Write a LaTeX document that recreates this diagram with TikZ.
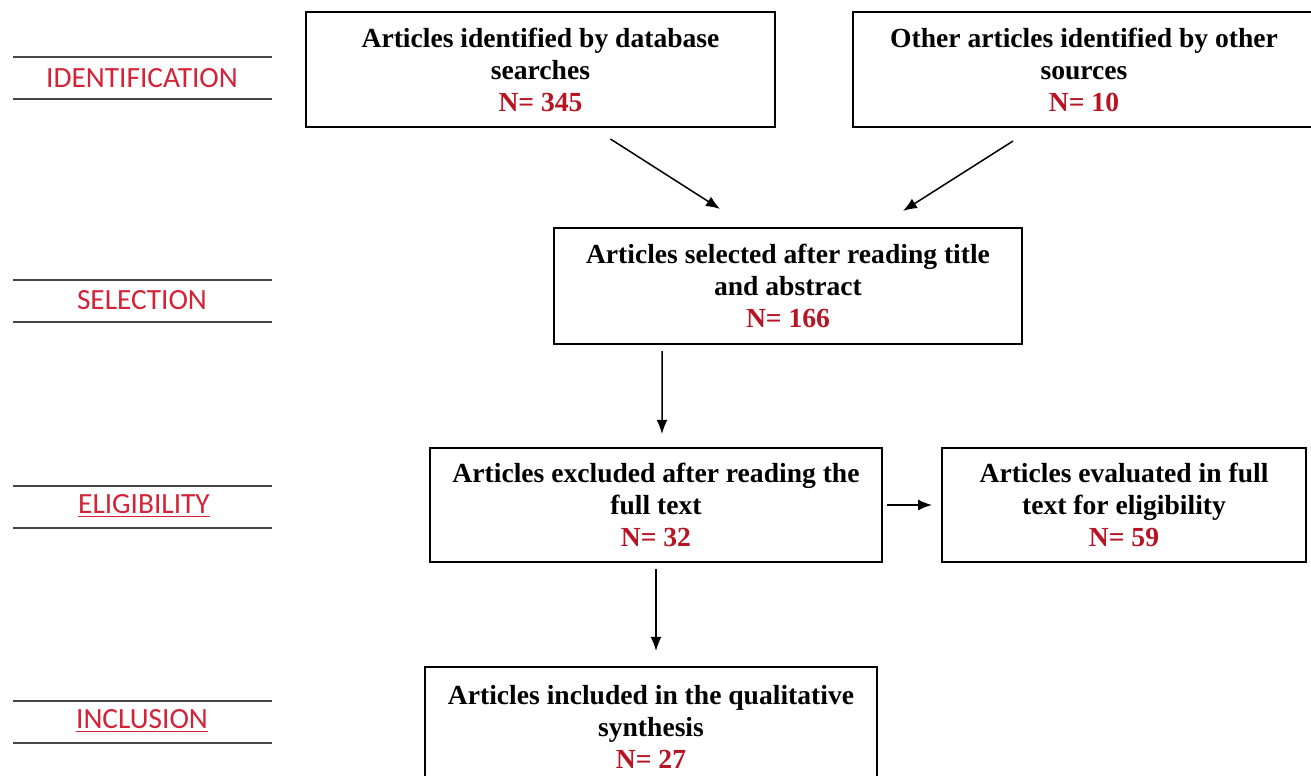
\documentclass[tikz,border=0pt]{standalone}
\usepackage{fontspec}
\setmainfont{Liberation Serif}
\newfontfamily\stagefont{Carlito}
\usetikzlibrary{arrows.meta}

\definecolor{numred}{RGB}{185,20,35}
\definecolor{stagered}{RGB}{212,35,55}
\definecolor{rulegray}{RGB}{70,70,70}

\newcommand{\stagelines}[1]{
  \draw [stagerule] (13,#1-21) -- (272,#1-21);
  \draw [stagerule] (13,#1+21) -- (272,#1+21);
}

\begin{document}
\begin{tikzpicture}[x=0.02cm,y=-0.02cm,
    box/.style={draw,line width=1.2pt,align=center,inner sep=0pt,
      font=\fontsize{15.7}{18.2}\selectfont\bfseries},
    stagelabel/.style={text=stagered,font=\stagefont\fontsize{16.7}{19}\selectfont},
    stagerule/.style={draw=rulegray,line width=1.2pt},
    arr/.style={-{Latex[length=2.8mm,width=2.2mm]},line width=0.85pt}]
  \useasboundingbox (0,0) rectangle (1311,776);
  \clip (0,0) rectangle (1311,776);

  % stages on the left
  \stagelines{78}
  \stagelines{301}
  \stagelines{507}
  \stagelines{722}
  \node [stagelabel] (sIdent) at (142,78) {IDENTIFICATION};
  \node [stagelabel] (sSelect) at (142,300) {SELECTION};
  \node [stagelabel] (sElig) at (144,506) {\underline{ELIGIBILITY}};
  \node [stagelabel] (sIncl) at (142,721) {\underline{INCLUSION}};

  % boxes
  \node [box,minimum width=9.38cm,minimum height=2.3cm] (dbase) at (540.5,69.5)
    {Articles identified by database\\searches\\\textcolor{numred}{N= 345}};
  \node [box,minimum width=9.24cm,minimum height=2.3cm] (other) at (1084,69.5)
    {Other articles identified by other\\sources\\\textcolor{numred}{N= 10}};
  \node [box,minimum width=9.36cm,minimum height=2.32cm] (select) at (788,286)
    {Articles selected after reading title\\and abstract\\\textcolor{numred}{N= 166}};
  \node [box,minimum width=9.04cm,minimum height=2.28cm] (excl) at (656,505)
    {Articles excluded after reading the\\full text\\\textcolor{numred}{N= 32}};
  \node [box,minimum width=7.28cm,minimum height=2.28cm] (eval) at (1124,505)
    {Articles evaluated in full\\text for eligibility\\\textcolor{numred}{N= 59}};
  \node [box,minimum width=9.04cm,minimum height=2.4cm] (incl) at (651,727)
    {Articles included in the qualitative\\synthesis\\\textcolor{numred}{N= 27}};

  % arrows
  \draw [arr] ([xshift=1.4cm,yshift=-0.22cm]dbase.south) -- ([xshift=-1.36cm,yshift=0.36cm]select.north);
  \draw [arr] ([xshift=-1.42cm,yshift=-0.26cm]other.south) -- ([xshift=2.3cm,yshift=0.32cm]select.north);
  \draw [arr] ([xshift=-2.52cm,yshift=-0.12cm]select.south) -- ([xshift=0.12cm,yshift=0.26cm]excl.north);
  \draw [arr,shorten <=0.08cm,shorten >=0.18cm] (excl.east) -- (eval.west);
  \draw [arr,shorten <=0.12cm,shorten >=0.3cm] (excl.south) -- (excl.south |- incl.north);
\end{tikzpicture}
\end{document}
